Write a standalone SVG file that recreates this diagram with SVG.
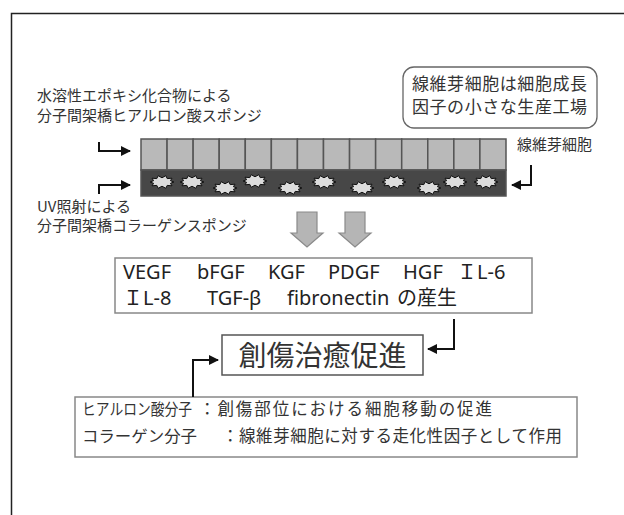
<svg xmlns="http://www.w3.org/2000/svg" xmlns:xlink="http://www.w3.org/1999/xlink" width="624" height="515" viewBox="0 0 624 515">
  <style>
    .jp { font-family: "Noto Sans CJK JP", "Noto Sans", sans-serif; fill: #333; }
    .lbl { font-size: 15px; }
    .fac { font-family: "Noto Sans", "Noto Sans CJK JP", sans-serif; font-size: 20px; fill: #222; }
    .conn { fill: none; stroke: #111; stroke-width: 2; }
    .cell { fill: #b9b9b9; stroke: #555; stroke-width: 1.5; }
  </style>
  <defs>
    <marker id="tip" viewBox="0 0 10 10" refX="9" refY="5" markerWidth="5" markerHeight="5" orient="auto" markerUnits="strokeWidth">
      <path d="M0,0 L10,5 L0,10 z" fill="#111"/>
    </marker>
    <!-- spiky sponge pore -->
    <polygon id="spark" points="12,0 8.4,1.3 10,3.8 5.2,3.4 3.8,6.3 0,4.2 -3.8,6.3 -5.2,3.4 -10,3.8 -8.4,1.3 -12,0 -8.4,-1.3 -10,-3.8 -5.2,-3.4 -3.8,-6.3 0,-4.2 3.8,-6.3 5.2,-3.4 10,-3.8 8.4,-1.3" fill="#dcdcdc" stroke="#111" stroke-width="1"/>
    <path id="down" d="M-10,0 H10 V21 H16 L0,35 L-16,21 H-10 Z" fill="#b5b5b5" stroke="#8a8a8a" stroke-width="1.2"/>
  </defs>

  <rect width="624" height="515" fill="#fff"/>
  <!-- page frame (open to the right and bottom) -->
  <path d="M11.5,520 V13.5 H630" fill="none" stroke="#222" stroke-width="1.5"/>

  <g id="label-hyaluronic">
    <text class="jp lbl" x="37" y="101">水溶性エポキシ化合物による</text>
    <text class="jp lbl" x="37" y="121">分子間架橋ヒアルロン酸スポンジ</text>
  </g>

  <g id="note-factory">
    <rect x="403" y="67" width="194" height="61" rx="11" ry="11" fill="#fff" stroke="#666" stroke-width="1.3"/>
    <text class="jp" x="412" y="90" font-size="17" textLength="175" lengthAdjust="spacing">線維芽細胞は細胞成長</text>
    <text class="jp" x="412" y="113" font-size="17" textLength="175" lengthAdjust="spacing">因子の小さな生産工場</text>
  </g>

  <g id="label-fibroblast">
    <text class="jp" x="517" y="150" font-size="15">線維芽細胞</text>
  </g>

  <g id="sponge">
    <!-- fibroblast cell layer -->
    <rect class="cell" x="141" y="139" width="26.07" height="31"/>
    <rect class="cell" x="167.07" y="139" width="26.07" height="31"/>
    <rect class="cell" x="193.14" y="139" width="26.07" height="31"/>
    <rect class="cell" x="219.21" y="139" width="26.07" height="31"/>
    <rect class="cell" x="245.28" y="139" width="26.07" height="31"/>
    <rect class="cell" x="271.35" y="139" width="26.07" height="31"/>
    <rect class="cell" x="297.42" y="139" width="26.07" height="31"/>
    <rect class="cell" x="323.49" y="139" width="26.07" height="31"/>
    <rect class="cell" x="349.56" y="139" width="26.07" height="31"/>
    <rect class="cell" x="375.63" y="139" width="26.07" height="31"/>
    <rect class="cell" x="401.7" y="139" width="26.07" height="31"/>
    <rect class="cell" x="427.77" y="139" width="26.07" height="31"/>
    <rect class="cell" x="453.84" y="139" width="26.07" height="31"/>
    <rect class="cell" x="479.91" y="139" width="26.09" height="31"/>
    <!-- collagen sponge layer -->
    <rect x="141" y="170" width="365" height="26" fill="#474747" stroke="#555" stroke-width="1.5"/>
    <use xlink:href="#spark" x="162" y="182"/>
    <use xlink:href="#spark" x="192" y="182"/>
    <use xlink:href="#spark" x="225" y="188"/>
    <use xlink:href="#spark" x="255" y="181"/>
    <use xlink:href="#spark" x="290" y="188"/>
    <use xlink:href="#spark" x="324" y="182"/>
    <use xlink:href="#spark" x="362" y="188"/>
    <use xlink:href="#spark" x="394" y="182"/>
    <use xlink:href="#spark" x="429" y="188"/>
    <use xlink:href="#spark" x="455" y="182"/>
    <use xlink:href="#spark" x="486" y="182"/>
  </g>

  <g id="label-collagen">
    <text class="jp lbl" x="37" y="212">UV照射による</text>
    <text class="jp lbl" x="37" y="231">分子間架橋コラーゲンスポンジ</text>
  </g>

  <g id="release-arrows">
    <use xlink:href="#down" x="307" y="212"/>
    <use xlink:href="#down" x="355" y="212"/>
  </g>

  <g id="factors">
    <rect x="115" y="258" width="417" height="55" fill="#fff" stroke="#888" stroke-width="1.5"/>
    <text class="fac" x="123" y="279">VEGF</text>
    <text class="fac" x="197" y="279">bFGF</text>
    <text class="fac" x="268" y="279">KGF</text>
    <text class="fac" x="328" y="279">PDGF</text>
    <text class="fac" x="403" y="279">HGF</text>
    <text class="fac" x="457" y="279">ＩL-6</text>
    <text class="fac" x="123" y="305">ＩL-8</text>
    <text class="fac" x="207" y="305">TGF-β</text>
    <text class="fac" x="287" y="305">fibronectin</text>
    <text class="fac" x="397" y="305">の産生</text>
  </g>

  <g id="healing">
    <rect x="222" y="335" width="201" height="40" fill="#fff" stroke="#555" stroke-width="1.5"/>
    <text class="jp" x="322.5" y="366" font-size="28" text-anchor="middle" fill="#222">創傷治癒促進</text>
  </g>

  <g id="molecules">
    <rect x="75" y="397" width="502" height="60" fill="#fff" stroke="#888" stroke-width="1.5"/>
    <text class="jp" x="82" y="415" font-size="16" textLength="110" lengthAdjust="spacingAndGlyphs">ヒアルロン酸分子</text>
    <text class="jp" x="199" y="415" font-size="16.5" textLength="293" lengthAdjust="spacing">：創傷部位における細胞移動の促進</text>
    <text class="jp" x="82" y="442" font-size="16" textLength="115" lengthAdjust="spacingAndGlyphs">コラーゲン分子</text>
    <text class="jp" x="222" y="442" font-size="16.5" textLength="340" lengthAdjust="spacing">：線維芽細胞に対する走化性因子として作用</text>
  </g>

  <g id="connectors">
    <path class="conn" d="M99,142 V151 H130" marker-end="url(#tip)"/>
    <path class="conn" d="M99,194 V185 H130" marker-end="url(#tip)"/>
    <path class="conn" d="M531,165 V185 H512" marker-end="url(#tip)"/>
    <path class="conn" d="M454,319 V349 H428" marker-end="url(#tip)"/>
    <path class="conn" d="M193,397 V360 H218" marker-end="url(#tip)"/>
  </g>
</svg>
